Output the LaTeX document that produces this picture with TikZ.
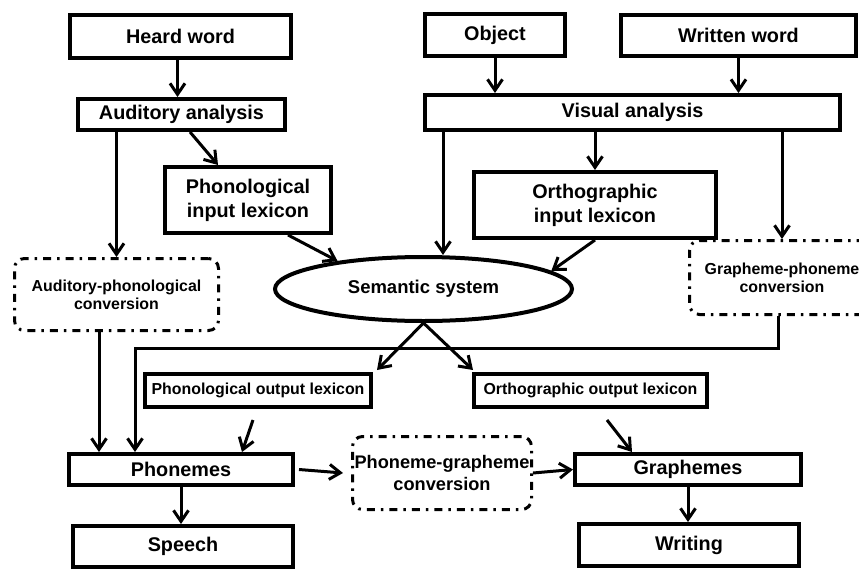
\documentclass[tikz,border=0pt]{standalone}
\usepackage{fontspec}
\setmainfont{Liberation Sans}
\usetikzlibrary{arrows.meta,shapes.geometric,calc}
\begin{document}
\begin{tikzpicture}[x=1pt,y=-1pt,
  box/.style={draw,line width=4pt,inner sep=0pt,align=center,font=\fontsize{19.8}{24}\selectfont\bfseries},
  sbox/.style={box,font=\fontsize{15.9}{18}\selectfont\bfseries},
  dbox/.style={draw,line width=3pt,rounded corners=10pt,inner sep=0pt,align=center,
    dash pattern=on 8pt off 6pt on 2.5pt off 6pt,font=\fontsize{15.9}{18}\selectfont\bfseries},
  arr/.style={line width=3pt,-{Straight Barb[length=11pt,width=15pt]}}]
\path[use as bounding box] (0,0) rectangle (859,570);
\clip (0,0) rectangle (859,570);
\fill[white] (0,0) rectangle (859,570);

\node[box, minimum width=221pt, minimum height=43pt] (heard) at (180.5,36.5) {Heard word};
\node[box, minimum width=207pt, minimum height=31pt] (audan) at (181.5,114.5) {Auditory analysis};
\node[box, minimum width=166pt, minimum height=66pt] (phin) at (248,200) {Phonological\\input lexicon};
\node[dbox, minimum width=204pt, minimum height=72pt] (apc) at (116.5,294.5) {Auditory-phonological\\conversion};
\node[box, minimum width=140pt, minimum height=42pt] (object) at (495,35) {Object};
\node[box, minimum width=235pt, minimum height=41pt] (written) at (738.5,35.5) {Written word};
\node[box, minimum width=415pt, minimum height=35pt] (visan) at (632.5,112.5) {Visual analysis};
\node[box, minimum width=242pt, minimum height=66pt] (orin) at (595,205) {Orthographic\\input lexicon};
\node[dbox, minimum width=185pt, minimum height=74pt] (gpc) at (782,277.5) {Grapheme-phoneme\\conversion};
\node[ellipse, draw, line width=4pt, minimum width=297pt, minimum height=64pt, inner sep=0pt,
  font=\fontsize{18.5}{22}\selectfont\bfseries] (sem) at (423.5,289) {Semantic system};
\node[sbox, minimum width=226pt, minimum height=33pt] (phout) at (258,390.5) {Phonological output lexicon};
\node[sbox, minimum width=233pt, minimum height=33pt] (orout) at (590.5,390.5) {Orthographic output lexicon};
\node[box, minimum width=224pt, minimum height=31pt] (phon) at (181,469.5) {Phonemes};
\node[dbox, font=\fontsize{18.2}{22.7}\selectfont\bfseries, minimum width=179pt, minimum height=73pt] (pgc) at (442,473) {Phoneme-grapheme\\conversion};
\node[box, minimum width=226pt, minimum height=31pt] (graph) at (688,469.5) {Graphemes};
\node[box, minimum width=220pt, minimum height=41pt] (speech) at (183,546.5) {Speech};
\node[box, minimum width=220pt, minimum height=42pt] (writing) at (689,545) {Writing};

\draw[arr] ([xshift=-3pt]heard.south) -- ([xshift=-3pt]heard.south |- audan.north);
\draw[arr] ([xshift=8.5pt]audan.south) -- ([xshift=-30pt]phin.north);
\draw[arr] (audan.south -| apc.north) -- (apc.north);
\draw[arr] ([xshift=40pt]phin.south) -- (sem.162);
\coordinate (vs) at ([xshift=19.5pt]sem.north);
\draw[arr] (visan.south -| vs) -- (vs);
\draw[arr] (visan.south -| orin.north) -- (orin.north);
\draw[arr] (visan.south -| gpc.north) -- (gpc.north);
\draw[arr] (object.south) -- (object.south |- visan.north);
\draw[arr] (written.south) -- (written.south |- visan.north);
\draw[arr] (orin.south) -- (sem.8);
\draw[arr] (sem.south) -- ([xshift=4pt,yshift=2pt]phout.north east);
\draw[arr] (sem.south) -- ([xshift=1pt,yshift=2pt]orout.north west);
\coordinate (turn) at (135,348);
\draw[arr] ([xshift=-4pt]gpc.south) |- (turn) -- (turn |- phon.north);
\coordinate (apcx) at ([xshift=-17.5pt]apc.south);
\draw[arr] (apcx) -- (apcx |- phon.north);
\draw[arr] ([xshift=-5pt,yshift=-11pt]phout.south) -- ([xshift=61pt]phon.north);
\draw[arr] ([xshift=16.5pt,yshift=-11pt]orout.south) -- ([xshift=-56pt]graph.north);
\draw[arr] ([xshift=4pt]phon.east) -- ([xshift=-8pt]pgc.west);
\draw[arr] (pgc.east) -- (graph.west);
\draw[arr] (phon.south) -- (phon.south |- speech.north);
\draw[arr] (graph.south) -- (graph.south |- writing.north);
\end{tikzpicture}
\end{document}
